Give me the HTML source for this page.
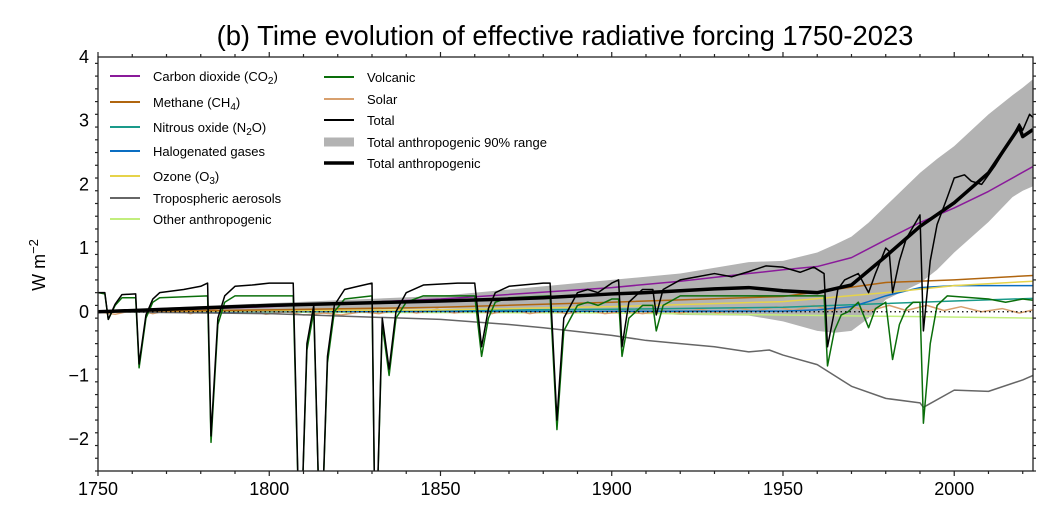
<!DOCTYPE html>
<html><head><meta charset="utf-8"><style>
html,body{margin:0;padding:0;background:#fff;width:1062px;height:531px;overflow:hidden}
svg{display:block;font-family:"Liberation Sans",Arial,sans-serif}
</style></head><body>
<svg id="chart" width="1062" height="531" viewBox="0 0 1062 531">
<text x="565" y="45" font-size="27.4" text-anchor="middle">(b) Time evolution of effective radiative forcing 1750-2023</text>
<text transform="translate(45,265) rotate(-90)" font-size="18" text-anchor="middle">W m<tspan dy="-7" font-size="13">−2</tspan></text>
<g id="plot"></g>
<g id="legend" font-size="13"></g>
</svg>
<script>
const co2Years=[1750,1800,1850,1900,1920,1940,1950,1960,1970,1980,1990,2000,2010,2023];
const co2Vals=[0,0.08,0.2,0.38,0.48,0.6,0.66,0.71,0.85,1.13,1.4,1.63,1.89,2.28];
const ch4Years=[1750,1800,1850,1900,1950,1980,2000,2023];
const ch4Vals=[0,0.03,0.07,0.15,0.24,0.46,0.5,0.57];
const n2oYears=[1750,1850,1900,1950,1980,2000,2023];
const n2oVals=[0,0.02,0.04,0.07,0.13,0.17,0.21];
const haloYears=[1750,1950,1960,1970,1975,1980,1990,2000,2023];
const haloVals=[0,0.01,0.03,0.08,0.16,0.25,0.38,0.41,0.41];
const o3Years=[1750,1850,1900,1950,1980,2000,2023];
const o3Vals=[0,0.03,0.08,0.16,0.3,0.41,0.48];
const aeroYears=[1750,1800,1850,1870,1880,1900,1910,1920,1930,1940,1946,1950,1960,1970,1980,1990,1991,2000,2010,2020,2023];
const aeroVals=[0,-0.03,-0.12,-0.2,-0.25,-0.37,-0.45,-0.5,-0.55,-0.63,-0.6,-0.68,-0.83,-1.17,-1.36,-1.43,-1.5,-1.23,-1.25,-1.07,-1.0];
const otherYears=[1750,1900,1950,2023];
const otherVals=[0,-0.02,-0.05,-0.1];
const volcYears=[1750,1752,1753,1755,1757,1761,1762,1764,1766,1768,1782,1783,1785,1787,1790,1807,1809,1811,1813,1815,1817,1819,1822,1830,1831,1833,1835,1837,1840,1845,1860,1862,1864,1866,1870,1882,1884,1886,1888,1890,1893,1896,1900,1902,1903,1905,1907,1909,1912,1913,1915,1920,1940,1962,1963,1965,1967,1969,1972,1975,1977,1980,1982,1984,1986,1988,1990,1991,1993,1995,1998,2010,2015,2020,2023];
const volcVals=[0.3,0.28,-0.12,0.1,0.22,0.22,-0.88,-0.1,0.15,0.22,0.25,-2.05,-0.2,0.15,0.25,0.25,-4,-0.6,0,-4,-0.8,0,0.2,0.25,-4,-0.2,-1.0,-0.1,0.15,0.25,0.25,-0.7,-0.1,0.15,0.22,0.25,-1.85,-0.3,-0.1,0.1,0.15,0.1,0.2,0.2,-0.7,-0.1,0,0.1,0.1,-0.3,0.1,0.25,0.25,0.25,-0.85,-0.3,-0.05,0,0.15,-0.25,0.05,0.15,-0.75,-0.2,0.05,0.15,0.15,-1.75,-0.5,0.1,0.25,0.2,0.15,0.2,0.18];
const solarYears=[1750,1755,1761,1766,1772,1777,1783,1788,1794,1799,1805,1810,1816,1821,1827,1832,1838,1843,1849,1854,1860,1865,1871,1876,1882,1887,1893,1898,1904,1909,1915,1920,1926,1931,1937,1942,1948,1953,1959,1964,1970,1975,1981,1986,1992,1997,2002,2008,2014,2019,2023];
const solarVals=[0,-0.04,0.03,-0.03,0.04,-0.03,0.05,-0.02,0.03,-0.04,0,-0.05,-0.02,-0.05,0,-0.03,0.04,-0.02,0.04,-0.02,0.03,-0.03,0.04,-0.03,0.02,-0.03,0.03,-0.03,0.01,-0.03,0.02,-0.02,0.04,-0.02,0.06,0.01,0.08,0.02,0.1,0.02,0.08,0.01,0.1,0.02,0.1,0.02,0.08,0,0.05,-0.02,0.03];
const totalYears=[1750,1752,1753,1755,1757,1761,1762,1764,1766,1768,1775,1780,1782,1783,1785,1787,1790,1795,1800,1807,1809,1811,1813,1815,1817,1819,1822,1826,1830,1831,1833,1835,1837,1840,1845,1855,1860,1862,1864,1866,1870,1880,1882,1884,1886,1888,1890,1893,1896,1900,1902,1903,1905,1907,1909,1912,1913,1915,1920,1925,1930,1935,1940,1945,1950,1955,1959,1962,1963,1965,1966,1968,1970,1972,1975,1977,1980,1981,1982,1984,1986,1990,1991,1993,1995,1998,2000,2003,2005,2008,2012,2016,2019,2020,2022,2023];
const totalVals=[0.3,0.3,-0.12,0.12,0.27,0.28,-0.82,-0.05,0.2,0.3,0.35,0.4,0.45,-1.95,-0.1,0.25,0.4,0.42,0.45,0.45,-4,-0.5,0.1,-4,-0.7,0.1,0.35,0.4,0.45,-4,-0.1,-0.9,0,0.3,0.42,0.45,0.45,-0.55,0.05,0.3,0.4,0.45,0.45,-1.7,-0.1,0.1,0.3,0.35,0.3,0.45,0.5,-0.55,0.15,0.25,0.35,0.35,-0.05,0.35,0.5,0.55,0.6,0.55,0.63,0.72,0.7,0.62,0.7,0.6,-0.55,0,0.35,0.5,0.55,0.6,0.3,0.6,1.0,0.95,0.3,0.8,1.15,1.52,-0.3,0.8,1.37,1.8,2.1,2.15,2.05,2.0,2.3,2.65,2.95,2.85,3.1,3.05];
const anthroYears=[1750,1800,1850,1870,1880,1900,1910,1920,1930,1940,1950,1960,1970,1980,1990,2000,2010,2019,2020,2023];
const anthroVals=[0,0.1,0.17,0.2,0.22,0.28,0.3,0.33,0.36,0.38,0.33,0.3,0.42,0.87,1.34,1.71,2.18,2.9,2.75,2.86];
const bandYears=[1750,1850,1900,1920,1940,1950,1960,1965,1970,1975,1980,1990,1995,2000,2010,2017,2020,2023];
const bandUpper=[0.02,0.25,0.5,0.6,0.78,0.8,0.93,1.05,1.18,1.4,1.66,2.18,2.4,2.6,3.1,3.4,3.52,3.65];
const bandLower=[-0.02,0.05,0.02,-0.05,-0.06,-0.15,-0.3,-0.33,-0.3,-0.1,0.19,0.45,0.66,0.93,1.41,1.8,1.9,1.97];
const xTicks=[1750,1800,1850,1900,1950,2000];
const yTicks=[-2,-1,0,1,2,3,4];

const L=98,R=1033,T=57,B=471,X0=1750,X1=2023,Y0=-2.5,Y1=4;
const x=v=>L+(v-X0)/(X1-X0)*(R-L);
const y=v=>T+(Y1-v)/(Y1-Y0)*(B-T);
const NS="http://www.w3.org/2000/svg";
const plot=document.getElementById('plot');
function mk(tag,attrs,parent){const e=document.createElementNS(NS,tag);for(const k in attrs)e.setAttribute(k,attrs[k]);(parent||plot).appendChild(e);return e;}
const clip=mk('clipPath',{id:'pc'});mk('rect',{x:L,y:T,width:R-L,height:B-T},clip);
const g=mk('g',{'clip-path':'url(#pc)'});
let bp=bandYears.map((v,i)=>x(v)+','+y(bandUpper[i]));
bp=bp.concat(bandYears.map((v,i)=>x(v)+','+y(bandLower[i])).reverse());
const band=mk('polygon',{points:bp.join(' '),fill:'#b3b3b3'},g);


function line(ys,vs,color,w,name){const p=mk('polyline',{points:ys.map((v,i)=>x(v)+','+y(vs[i])).join(' '),fill:'none',stroke:color,'stroke-width':w,'stroke-linejoin':'round'},g);

}
line(otherYears,otherVals,'#c2ee7d',1.5,'other-anthropogenic-line');
line(solarYears,solarVals,'#d8a06e',1.5,'solar-line');
line(n2oYears,n2oVals,'#1a9a8a',1.5,'n2o-line');
line(haloYears,haloVals,'#0a6ec2',1.5,'halogenated-line');
line(o3Years,o3Vals,'#e6d34a',1.5,'ozone-line');
line(ch4Years,ch4Vals,'#b0650f',1.5,'ch4-line');
line(aeroYears,aeroVals,'#666666',1.5,'aerosols-line');
line(co2Years,co2Vals,'#8a1a9a',1.5,'co2-line');
line(volcYears,volcVals,'#0a6e0a',1.5,'volcanic-line');
line(totalYears,totalVals,'#000',1.5,'total-line');
line(anthroYears,anthroVals,'#000',3.5,'total-anthropogenic-line');
const zl=mk('line',{x1:L,x2:R,y1:y(0),y2:y(0),stroke:'#000','stroke-width':1.2,'stroke-dasharray':'1.5,3'});


const fr=mk('rect',{x:L,y:T,width:R-L,height:B-T,fill:'none',stroke:'#222','stroke-width':1.3});


for(let yr=1750;yr<=2020;yr+=10){const m=xTicks.includes(yr);const len=m?5:3;
mk('line',{x1:x(yr),x2:x(yr),y1:B,y2:B+len,stroke:'#222','stroke-width':1.2});
mk('line',{x1:x(yr),x2:x(yr),y1:T,y2:T-len,stroke:'#222','stroke-width':1.2});}
xTicks.forEach(v=>{const t=mk('text',{x:x(v),y:B+24,'font-size':18,'text-anchor':'middle'});t.textContent=v;

});
for(let k=-25;k<=40;k+=2){const v=k/10;const m=k%10===0;const len=m?5:3;
mk('line',{x1:L,x2:L-len,y1:y(v),y2:y(v),stroke:'#222','stroke-width':1.2});
mk('line',{x1:R,x2:R+len,y1:y(v),y2:y(v),stroke:'#222','stroke-width':1.2});}
yTicks.forEach(v=>{const t=mk('text',{x:L-9,y:y(v)+6,'font-size':18,'text-anchor':'end'});t.textContent=v<0?'−'+(-v):v;

});
const lg=document.getElementById('legend');
const items=[
[110,76,'#8a1a9a',2,'Carbon dioxide (CO','2',')'],
[110,102,'#b0650f',2,'Methane (CH','4',')'],
[110,127,'#1a9a8a',2,'Nitrous oxide (N','2','O)'],
[110,151,'#0a6ec2',2,'Halogenated gases','',''],
[110,176,'#e6d34a',2,'Ozone (O','3',')'],
[110,198,'#666666',2,'Tropospheric aerosols','',''],
[110,219,'#c2ee7d',2,'Other anthropogenic','',''],
[324,77,'#0a6e0a',2,'Volcanic','',''],
[324,99,'#d8a06e',2,'Solar','',''],
[324,120,'#000',2,'Total','',''],
[324,142,'#b3b3b3',9,'Total anthropogenic 90% range','',''],
[324,163,'#000',3.5,'Total anthropogenic','','']];
items.forEach(it=>{const gi=mk('g',{},lg);


mk('line',{x1:it[0],x2:it[0]+30,y1:it[1],y2:it[1],stroke:it[2],'stroke-width':it[3]},gi);
const t=mk('text',{x:it[0]+43,y:it[1]+5},gi);t.appendChild(document.createTextNode(it[4]));
if(it[5]){const s=mk('tspan',{dy:3,'font-size':10},t);s.textContent=it[5];const s2=mk('tspan',{dy:-3},t);s2.textContent=it[6];}
else if(it[6]){t.appendChild(document.createTextNode(it[6]));}});
</script>
</body></html>
